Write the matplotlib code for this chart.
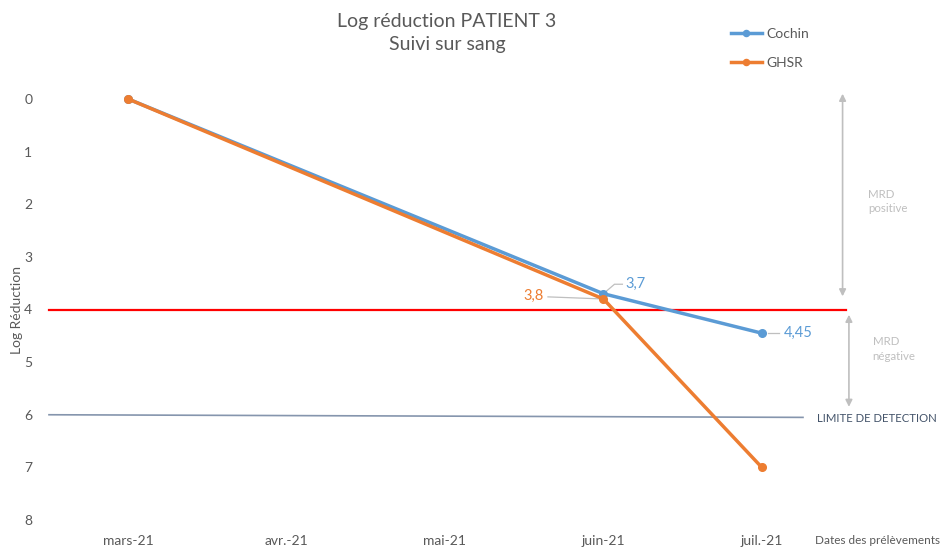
import numpy as np
import matplotlib.pyplot as plt

plt.rcParams['font.family'] = ['Lato', 'DejaVu Sans']

dates = ["mars-21", "avr.-21", "mai-21", "juin-21", "juil.-21"]
# sampled months only (index into dates)
cochin_idx = [0, 3, 4]
cochin_val = [0, 3.7, 4.45]
ghsr_idx = [0, 3, 4]
ghsr_val = [0, 3.8, 7]
seuil_mrd = 4
limite_detection = [6.0, 6.05]

BLUE = "#5B9BD5"
ORANGE = "#ED7D31"
GREY_TXT = "#595959"
LIGHT = "#BFBFBF"

fig = plt.figure(figsize=(9.41, 5.5), dpi=100)
ax = fig.add_axes([49 / 941, 30 / 550, 792 / 941, 421 / 550])
ax.set_xlim(-0.5, 4.5)
ax.set_ylim(8, 0)
for s in ax.spines.values():
    s.set_visible(False)
ax.set_xticks(range(len(dates)))
ax.set_xticklabels(dates)
ax.set_yticks(range(9))
ax.tick_params(length=0, colors=GREY_TXT, labelsize=10)
ax.tick_params(axis='y', pad=12)
ax.tick_params(axis='x', pad=11)
fig.text(17 / 941, 1 - 310 / 550, "Log Réduction", color=GREY_TXT, fontsize=10,
         rotation=90, ha='center', va='center')

# seuil MRD et limite de detection
ax.plot([-0.5, 4.53], [seuil_mrd, seuil_mrd], color="#FF0000", lw=1.6, clip_on=False, zorder=2)
ax.plot([-0.5, 4.26], limite_detection, color="#8595AD", lw=1.2, clip_on=False, zorder=2)
fig.text(937 / 941, 1 - 419 / 550, "LIMITE DE DETECTION", color="#44546A", fontsize=8.2,
         va='center', ha='right')

ax.plot(cochin_idx, cochin_val, color=BLUE, lw=2.5, marker='o', ms=5.5, clip_on=False, zorder=3, label="Cochin")
ax.plot(ghsr_idx, ghsr_val, color=ORANGE, lw=2.5, marker='o', ms=5.5, clip_on=False, zorder=4, label="GHSR")

# etiquettes de valeurs
def fmt(v):
    return f"{v:g}".replace('.', ',')

ax.plot([3, 3.07, 3.12], [3.7, 3.52, 3.52], color=LIGHT, lw=0.9, zorder=2)
ax.text(3.14, 3.52, fmt(cochin_val[1]), color=BLUE, fontsize=10.5, va='center', ha='left')
ax.plot([2.65, 3], [3.76, 3.8], color=LIGHT, lw=0.9, zorder=2)
ax.text(2.62, 3.74, fmt(ghsr_val[1]), color=ORANGE, fontsize=10.5, va='center', ha='right')
ax.plot([4.04, 4.11], [4.45, 4.45], color=LIGHT, lw=0.9, zorder=2)
ax.text(4.14, 4.45, fmt(cochin_val[2]), color=BLUE, fontsize=10.5, va='center', ha='left')

# fleches MRD
arrow = dict(arrowstyle='<|-|>', color=LIGHT, lw=1.2, mutation_scale=10, shrinkA=0, shrinkB=0)
ax.annotate("", xy=(4.51, -0.1), xytext=(4.51, 3.75), arrowprops=arrow, annotation_clip=False)
ax.annotate("", xy=(4.55, 4.1), xytext=(4.55, 5.85), arrowprops=arrow, annotation_clip=False)
ax.text(4.67, 1.95, "MRD\npositive", color=LIGHT, fontsize=8.3, va='center', ha='left', linespacing=1.4)
ax.text(4.70, 4.75, "MRD\nnégative", color=LIGHT, fontsize=8.3, va='center', ha='left', linespacing=1.4)

fig.text(815 / 941, 1 - 540 / 550, "Dates des prélèvements", color=GREY_TXT, fontsize=8.5, va='center', ha='left')
fig.text(447 / 941, 1 - 33 / 550, "Log réduction PATIENT 3\nSuivi sur sang", color=GREY_TXT,
         fontsize=14, ha='center', va='center', linespacing=1.4)

fig.legend(loc='upper left', bbox_to_anchor=(718 / 941, 1 - 15 / 550), frameon=False,
           fontsize=10, labelcolor=GREY_TXT, handlelength=2.3, handletextpad=0.3, labelspacing=1.25,
           markerscale=0.8)

fig.savefig("out.png", dpi=100)
